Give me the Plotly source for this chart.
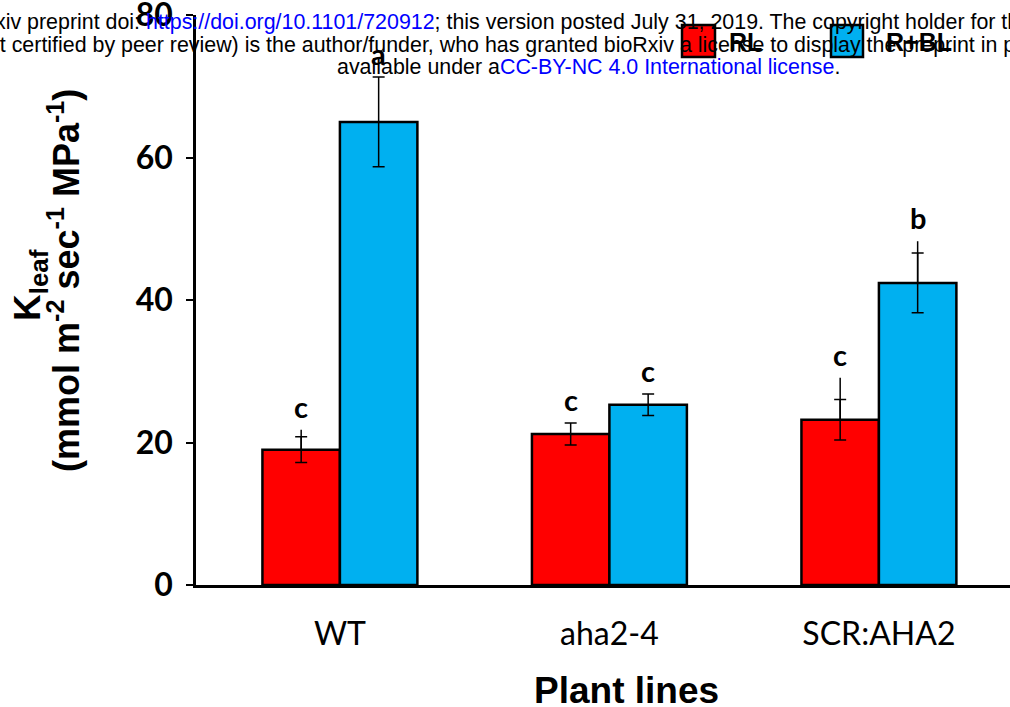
import plotly.graph_objects as go

# ---- data ----
lines = ["WT", "aha2-4", "SCR:AHA2"]
rl_vals = [19.0, 21.2, 23.2]
rbl_vals = [65.0, 25.3, 42.4]
rl_err = [1.8, 1.55, 2.85]
rbl_err = [6.3, 1.5, 4.2]
rl_ext = [2.8, 0.0, 5.9]
rbl_ext = [0.0, 0.0, 5.85]
rl_letters = ["c", "c", "c"]
rbl_letters = ["a", "c", "b"]
series_names = ["RL", "R+BL"]
yticks = [0, 20, 40, 60, 80]

RED = "#FF0000"
BLUE = "#00B0F0"

OFF = 0                      # page offset (body margin removed below)
W, H = 1010, 707
L = 196 - OFF                # plot area left (figure px)
T = 15 - OFF                 # plot area top (figure px)
PH = 570
PW = W - L


def px(xp):  # page px -> paper x
    return (xp - OFF - L) / PW


def py(yp):  # page px -> paper y
    return (T + PH - (yp - OFF)) / PH


fig = go.Figure()


def add_series(vals, err, ext, color, name, og):
    fig.add_trace(go.Bar(
        x=lines, y=vals, name=name, offsetgroup=og, showlegend=False,
        marker=dict(color=color, line=dict(color="black", width=2.5)),
        error_y=dict(type="data", array=err, symmetric=True,
                     color="black", thickness=1.5, width=6),
    ))
    # uncapped upper whisker extension
    fig.add_trace(go.Bar(
        x=lines, y=vals, offsetgroup=og, showlegend=False, hoverinfo="skip",
        marker=dict(color="rgba(0,0,0,0)", line=dict(width=0)),
        error_y=dict(type="data", array=ext, arrayminus=[0] * len(ext),
                     symmetric=False, color="black", thickness=1.5, width=0),
    ))


add_series(rl_vals, rl_err, rl_ext, RED, series_names[0], "rl")
add_series(rbl_vals, rbl_err, rbl_ext, BLUE, series_names[1], "rbl")

annotations = []
half = 38.75
for i, cat in enumerate(lines):
    for vals, err, ext, letters, sx in (
        (rl_vals, rl_err, rl_ext, rl_letters, -half),
        (rbl_vals, rbl_err, rbl_ext, rbl_letters, half),
    ):
        annotations.append(dict(
            x=cat, y=vals[i] + max(err[i], ext[i]), xref="x", yref="y",
            text=letters[i], showarrow=False, xshift=sx, yshift=4,
            yanchor="bottom", xanchor="center",
            font=dict(family="Lato", size=29, color="black", weight="bold"),
        ))

# bioRxiv header lines
hdr_font = dict(family="Liberation Sans, Arial", size=21.4, color="black")
hdr = [
    ("bioRxiv preprint doi: <span style='color:#0000FF'>https://doi.org/10.1101/720912</span>; "
     "this version posted July 31, 2019. The copyright holder for this preprint (which was", 22),
    ("not certified by peer review) is the author/funder, who has granted bioRxiv a license "
     "to display the preprint in perpetuity. It is made", 45),
    ("available under a<span style='color:#0000FF'>CC-BY-NC 4.0 International license</span>.", 67),
]
for txt, ypx in hdr:
    annotations.append(dict(
        x=px(588), y=py(ypx), xref="paper", yref="paper",
        text=txt, showarrow=False, xanchor="center", yanchor="middle",
        font=hdr_font,
    ))

# legend
shapes = []
leg = [(RED, series_names[0], 682, 715, 727), (BLUE, series_names[1], 831, 863, 884)]
for color, name, x0, x1, tx in leg:
    shapes.append(dict(
        type="rect", xref="paper", yref="paper",
        x0=px(x0), x1=px(x1), y0=py(57), y1=py(25),
        fillcolor=color, line=dict(color="black", width=2.5),
    ))
    annotations.append(dict(
        x=px(tx), y=py(42), xref="paper", yref="paper",
        text="<b>%s</b>" % name, showarrow=False, xanchor="left", yanchor="middle",
        font=dict(family="Liberation Sans, Arial", size=25, color="black"),
    ))

# axis titles
title_font = dict(family="Liberation Sans, Arial", size=36, color="black")
annotations.append(dict(
    x=px(30), y=py(285), xref="paper", yref="paper", textangle=-90,
    text="<b>K<sub>leaf</sub></b>", showarrow=False,
    xanchor="center", yanchor="middle", font=dict(title_font, size=37),
))
annotations.append(dict(
    x=px(64), y=py(281), xref="paper", yref="paper", textangle=-90,
    text="<b>(mmol m<sup>-2</sup> sec<sup>-1</sup> MPa<sup>-1</sup>)</b>", showarrow=False,
    xanchor="center", yanchor="middle", font=title_font,
))
annotations.append(dict(
    x=px(626), y=py(690), xref="paper", yref="paper",
    text="<b>Plant lines</b>", showarrow=False,
    xanchor="center", yanchor="middle", font=dict(title_font, size=37),
))

fig.update_layout(
    width=W, height=H,
    margin=dict(l=L, r=0, t=T, b=H - T - PH, pad=0),
    plot_bgcolor="white", paper_bgcolor="white",
    barmode="group", bargap=0.425, bargroupgap=0,
    showlegend=False, hovermode=False,
    annotations=annotations, shapes=shapes,
    xaxis=dict(
        range=[-0.534, -0.534 + PW / 269.5], showline=True, linecolor="black", linewidth=2.5,
        ticks="", showgrid=False, automargin=False, ticklabelstandoff=19,
        tickfont=dict(family="Lato", size=32, color="black"),
    ),
    yaxis=dict(
        range=[0, 80], tickvals=yticks, showline=True, linecolor="black", linewidth=2.5,
        ticks="outside", ticklen=7, tickwidth=2, tickcolor="black",
        showgrid=False, zeroline=False, ticklabelstandoff=7, automargin=False,
        ticklabeloverflow="allow",
        tickfont=dict(family="Lato", size=32, color="black", weight="bold"),
    ),
)

fig.write_html(
    "out.html",
    config={"displayModeBar": False},
    post_script="document.body.style.margin='0';document.body.style.overflow='hidden';",
)
